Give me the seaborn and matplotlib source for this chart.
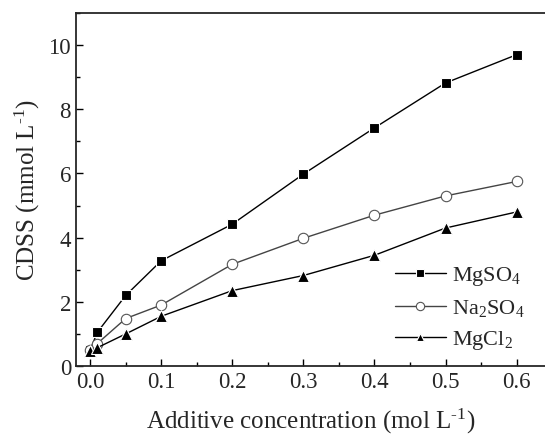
import pandas as pd
import matplotlib.pyplot as plt
import seaborn as sns
from matplotlib.ticker import MultipleLocator

# concentration points (mol/L)
conc = [0.0, 0.01, 0.05, 0.1, 0.2, 0.3, 0.4, 0.5, 0.6]
mgso4 = [0.50, 1.05, 2.20, 3.28, 4.42, 5.98, 7.42, 8.82, 9.70]
na2so4 = [0.50, 0.70, 1.48, 1.90, 3.17, 3.98, 4.70, 5.30, 5.75]
mgcl2 = [0.48, 0.57, 1.00, 1.55, 2.35, 2.82, 3.45, 4.30, 4.80]
labels = ['MgSO$_4$', 'Na$_2$SO$_4$', 'MgCl$_2$']

df = pd.DataFrame({
    'conc': conc * 3,
    'cdss': mgso4 + na2so4 + mgcl2,
    'salt': [labels[0]] * 9 + [labels[1]] * 9 + [labels[2]] * 9,
})

sns.set_style('ticks')
plt.rcParams['font.family'] = ['Liberation Serif', 'DejaVu Serif']
plt.rcParams['mathtext.fontset'] = 'custom'
plt.rcParams['mathtext.rm'] = 'Liberation Serif'
plt.rcParams['mathtext.it'] = 'Liberation Serif:italic'
plt.rcParams['mathtext.default'] = 'regular'

fig = plt.figure(figsize=(5.45, 4.35), dpi=100)
ax = fig.add_axes([0.1394, 0.1563, 0.8606, 0.8115])

palette = {labels[0]: 'black', labels[1]: '#444444', labels[2]: 'black'}
markers = {labels[0]: 's', labels[1]: 'o', labels[2]: '^'}
sns.lineplot(data=df, x='conc', y='cdss', hue='salt', style='salt',
             palette=palette, markers=markers, dashes=False, ax=ax,
             linewidth=1.0, markersize=7.5, markeredgewidth=0.8)

# open circles for Na2SO4, slightly bigger triangles
for line in ax.lines:
    if line.get_marker() == 'o':
        line.set_markerfacecolor('white')
        line.set_markeredgecolor('#555555')
    elif line.get_marker() == '^':
        line.set_markersize(8.5)

ax.set_xlim(-0.02, 0.64)
ax.set_ylim(0, 11)
ax.xaxis.set_major_locator(MultipleLocator(0.1))
ax.xaxis.set_minor_locator(MultipleLocator(0.05))
ax.yaxis.set_major_locator(MultipleLocator(2))
ax.yaxis.set_minor_locator(MultipleLocator(1))
ax.xaxis.set_major_formatter(plt.FormatStrFormatter('%.1f'))
ax.tick_params(which='both', direction='in', top=False, right=False,
               labelsize=16.5, width=1.0, color='black')
ax.tick_params(which='major', length=5)
ax.tick_params(which='minor', length=3)
for s in ['left', 'bottom', 'top']:
    ax.spines[s].set_linewidth(1.3)
ax.spines['right'].set_visible(False)

ax.set_xlabel('Additive concentration (mol L$^{\u20101}$)', fontsize=18, labelpad=10)
ax.set_ylabel('CDSS (mmol L$^{\u20101}$)', fontsize=18, labelpad=5)

handles, lbls = ax.get_legend_handles_labels()
for h in handles:
    h.set_markersize(6)
ax.legend(handles, lbls, loc='lower right', bbox_to_anchor=(1.0, -0.015),
          frameon=False, fontsize=16, handlelength=2.3, handletextpad=0.3,
          labelspacing=0.45)

fig.savefig('out.png', dpi=100)
